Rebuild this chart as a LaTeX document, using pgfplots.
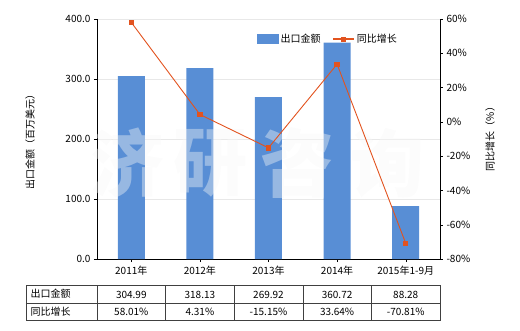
\documentclass[border=0pt]{standalone}
\usepackage{fontspec}
\setmainfont{Noto Sans CJK SC}
\usepackage{pgfplots}
\pgfplotsset{compat=1.18}
\definecolor{barblue}{RGB}{88,142,213}
\definecolor{lineorange}{RGB}{226,83,31}
\begin{document}
\fontsize{10}{12}\selectfont
\begin{tikzpicture}[x=1pt,y=1pt]
\useasboundingbox (-97,-71) rectangle (423,259);
\begin{axis}[
  at={(0,0)}, anchor=south west,
  scale only axis, width=343pt, height=240pt,
  xmin=-0.5, xmax=4.5, ymin=0, ymax=400,
  axis y line*=left, axis x line*=bottom,
  xtick={0,1,2,3,4},
  xticklabels={2011年,2012年,2013年,2014年,2015年1-9月},
  ytick={0,100,200,300,400},
  yticklabel style={/pgf/number format/.cd,fixed,fixed zerofill,precision=1,assume math mode=true},
  ymajorgrids, grid style={gray!18},
  tick align=outside, major tick length=3pt,
  tick style={black},
  axis line style={black},
  ylabel={出口金额（百万美元）},
  ylabel style={at={(axis description cs:-0.195,0.5)}, anchor=center},
  xticklabel style={yshift=-1pt},
  clip=false,
]
\addplot[ybar, bar width=27pt, fill=barblue, draw=none] coordinates {
  (0,304.99) (1,318.13) (2,269.92) (3,360.72) (4,88.28)};
\begin{scope}[every node/.style={text=gray!6, opacity=0.4, font=\fontsize{74}{74}\selectfont\bfseries}]
\node at (axis cs:-0.05,160) {济};
\node at (axis cs:1.15,160) {研};
\node at (axis cs:2.42,160) {咨};
\node at (axis cs:3.74,160) {询};
\end{scope}
\end{axis}
\begin{axis}[
  at={(0,0)}, anchor=south west,
  scale only axis, width=343pt, height=240pt,
  xmin=-0.5, xmax=4.5, ymin=-80, ymax=60,
  axis y line*=right, axis x line=none,
  ytick={-80,-60,-40,-20,0,20,40,60},
  yticklabels={-80\%,-60\%,-40\%,-20\%,0\%,20\%,40\%,60\%},
  tick align=outside, major tick length=3pt,
  tick style={black},
  axis line style={black},
  ylabel={同比增长（\%）},
  ylabel style={at={(axis description cs:1.146,0.51)}, anchor=center},
  legend style={at={(axis description cs:0.458,0.955)}, anchor=north west, draw=none, fill=none,
    legend columns=2, font=\fontsize{10}{12}\selectfont,
    /tikz/every even column/.append style={column sep=10pt}},
  legend cell align=left,
  clip=false,
]
\addlegendimage{legend image code/.code={\fill[barblue] (0pt,-4.5pt) rectangle (21pt,4.5pt);}}
\addlegendentry{出口金额}
\addplot[lineorange, line width=0.9pt, mark=square*, mark size=2.2pt,
  mark options={fill=lineorange, draw=lineorange},
  legend image code/.code={\draw[lineorange, line width=1.3pt] (0pt,0pt)--(21pt,0pt); \fill[lineorange] (8.5pt,-2pt) rectangle (12.5pt,2pt);}] coordinates {
  (0,58.01) (1,4.31) (2,-15.15) (3,33.64) (4,-70.81)};
\addlegendentry{同比增长}
\end{axis}
% data table
\begin{scope}[line width=0.6pt]
\draw[black!75] (-71,-26.7) rectangle (343,-61.7);
\draw[black!75] (-71,-44) -- (343,-44);
\foreach \xx in {0,68.6,137.2,205.8,274.4} {\draw[black!75] (\xx,-26.7) -- (\xx,-61.7);}
\end{scope}
\node[anchor=west] at (-70,-35) {出口金额};
\node[anchor=west] at (-70,-52.5) {同比增长};
\node at (34.3,-35.5) {304.99};
\node at (102.9,-35.5) {318.13};
\node at (171.5,-35.5) {269.92};
\node at (240.1,-35.5) {360.72};
\node at (308.7,-35.5) {88.28};
\node at (34.3,-53) {58.01\%};
\node at (102.9,-53) {4.31\%};
\node at (171.5,-53) {-15.15\%};
\node at (240.1,-53) {33.64\%};
\node at (308.7,-53) {-70.81\%};
\end{tikzpicture}
\end{document}
